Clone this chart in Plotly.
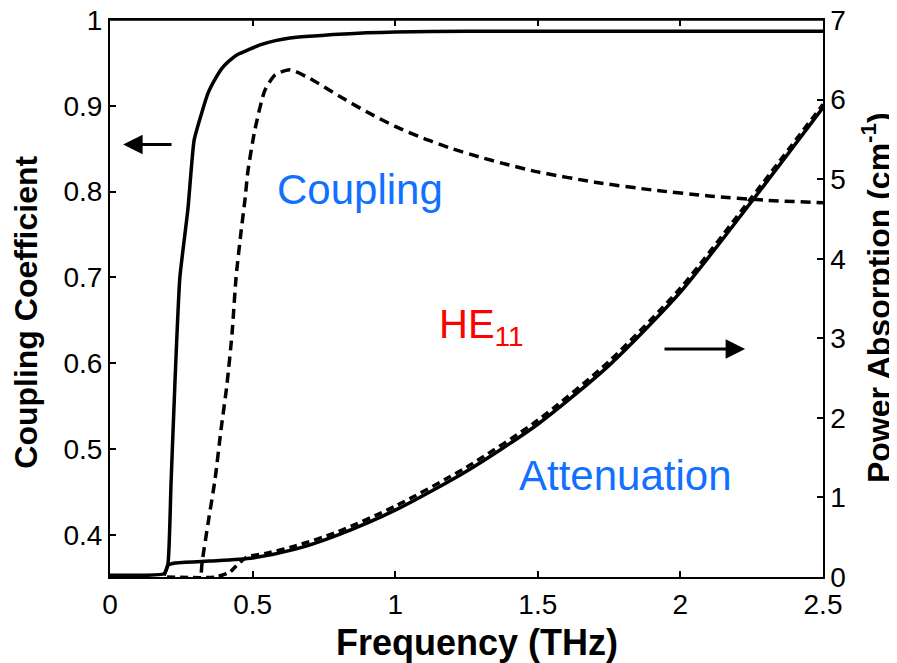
import plotly.graph_objects as go

# ---- data ----
freq_coup_solid = [0, 0.1, 0.19, 0.203, 0.214, 0.228, 0.245, 0.273, 0.295, 0.32, 0.344,
                   0.37, 0.393, 0.42, 0.449, 0.49, 0.526, 0.58, 0.631, 0.7, 0.782, 0.9,
                   1.0, 1.25, 1.5, 2.0, 2.5]
coup_solid = [0.353, 0.353, 0.355, 0.366, 0.46, 0.58, 0.70, 0.779, 0.860, 0.890, 0.915,
              0.932, 0.944, 0.953, 0.960, 0.966, 0.971, 0.976, 0.979, 0.981, 0.983, 0.985,
              0.986, 0.987, 0.987, 0.987, 0.987]

freq_coup_dash = [0.32, 0.323, 0.344, 0.368, 0.389, 0.410, 0.428, 0.442, 0.459, 0.473, 0.484,
                  0.508, 0.543, 0.579, 0.631, 0.70, 0.80, 0.90, 1.0, 1.1, 1.2, 1.3, 1.4,
                  1.5, 1.7, 1.9, 2.1, 2.3, 2.5]
coup_dash = [0.356, 0.368, 0.414, 0.464, 0.522, 0.575, 0.635, 0.700, 0.752, 0.790, 0.825,
             0.872, 0.918, 0.936, 0.942, 0.932, 0.912, 0.893, 0.876, 0.862, 0.850, 0.840,
             0.831, 0.823, 0.811, 0.802, 0.795, 0.790, 0.787]

freq_att_solid = [0.19, 0.205, 0.228, 0.35, 0.5, 0.65, 0.8, 1.0, 1.25, 1.5, 1.75, 2.0,
                  2.25, 2.5]
att_solid = [0.02, 0.15, 0.176, 0.20, 0.24, 0.35, 0.53, 0.84, 1.33, 1.92, 2.66, 3.58,
             4.72, 5.90]

freq_att_dash = [0.2, 0.37, 0.42, 0.44, 0.48, 0.55, 0.65, 0.8, 1.0, 1.25, 1.5, 1.75, 2.0,
                 2.25, 2.5]
att_dash = [0.0, 0.0, 0.06, 0.13, 0.25, 0.30, 0.39, 0.57, 0.89, 1.38, 1.97, 2.71, 3.63,
            4.77, 5.94]

x_ticks = [0, 0.5, 1, 1.5, 2, 2.5]
x_ticktext = ["0", "0.5", "1", "1.5", "2", "2.5"]
y_ticks = [0.4, 0.5, 0.6, 0.7, 0.8, 0.9, 1.0]
y_ticktext = ["0.4", "0.5", "0.6", "0.7", "0.8", "0.9", "1"]
y2_ticks = [0, 1, 2, 3, 4, 5, 6, 7]
y2_ticktext = ["0", "1", "2", "3", "4", "5", "6", "7"]

FONT = "Arial, Liberation Sans, Helvetica, sans-serif"
BLUE = "#1270ff"
RED = "#ff0000"

fig = go.Figure()
fig.add_trace(go.Scatter(x=freq_coup_solid, y=coup_solid, mode="lines",
                         line=dict(color="black", width=3.5, shape="spline", smoothing=0.5),
                         yaxis="y", showlegend=False))
fig.add_trace(go.Scatter(x=freq_coup_dash, y=coup_dash, mode="lines",
                         line=dict(color="black", width=3.5, dash="10px,6px",
                                   shape="spline", smoothing=0.6),
                         yaxis="y", showlegend=False))
fig.add_trace(go.Scatter(x=freq_att_solid, y=att_solid, mode="lines",
                         line=dict(color="black", width=3.5, shape="spline", smoothing=0.7),
                         yaxis="y2", showlegend=False))
fig.add_trace(go.Scatter(x=freq_att_dash, y=att_dash, mode="lines",
                         line=dict(color="black", width=3.5, dash="8px,5px",
                                   shape="spline", smoothing=0.7),
                         yaxis="y2", showlegend=False))

tickfont = dict(family=FONT, size=28, color="black")
common = dict(ticks="inside", ticklen=6, tickwidth=1.5, tickcolor="black", showgrid=False,
              zeroline=False, showline=True, linecolor="black", tickfont=tickfont,
              ticklabeloverflow="allow", automargin=False)
# page body has an 8px margin: figure is shrunk/shifted to compensate
fig.update_layout(
    width=889, height=655,
    margin=dict(l=102, r=74, t=12, b=86, autoexpand=False),
    paper_bgcolor="white", plot_bgcolor="white",
    xaxis=dict(range=[0, 2.5], tickvals=x_ticks, ticktext=x_ticktext, linewidth=2,
               mirror="ticks", ticklabelstandoff=1, **common),
    yaxis=dict(range=[0.351, 1.0], tickvals=y_ticks, ticktext=y_ticktext, linewidth=2,
               ticklabelstandoff=0, **common),
    yaxis2=dict(range=[0, 7], tickvals=y2_ticks, ticktext=y2_ticktext, linewidth=1.5,
                overlaying="y", side="right", ticklabelstandoff=0, **common),
)

# top frame line
fig.add_shape(type="line", xref="paper", yref="paper", x0=0, x1=1, y0=1, y1=1,
              line=dict(color="black", width=1.5))

title_font = dict(family=FONT, size=32, color="black", weight="bold")
fig.add_annotation(text="Coupling Coefficient", xref="paper", yref="paper",
                   x=-0.118, y=0.476, xanchor="center", yanchor="middle",
                   textangle=-90, showarrow=False, font=title_font)
fig.add_annotation(text="Power Absorption (cm<sup>-1</sup>)", xref="paper", yref="paper",
                   x=1.0745, y=0.501, xanchor="center", yanchor="middle",
                   textangle=-90, showarrow=False, font=title_font)
fig.add_annotation(text="Frequency (THz)", xref="paper", yref="paper",
                   x=0.515, y=-0.117, xanchor="center", yanchor="middle", showarrow=False,
                   font=dict(family=FONT, size=36, color="black", weight="bold"))

label_font_blue = dict(family=FONT, size=42, color=BLUE)
fig.add_annotation(text="Coupling", x=0.877, y=0.8025, xref="x", yref="y",
                   xanchor="center", yanchor="middle", showarrow=False, font=label_font_blue)
fig.add_annotation(text="Attenuation", x=1.806, y=1.27, xref="x", yref="y2",
                   xanchor="center", yanchor="middle", showarrow=False, font=label_font_blue)
fig.add_annotation(text="HE<sub>11</sub>", x=1.147, y=3.14, xref="x", yref="y2",
                   xanchor="left", yanchor="middle", showarrow=False,
                   font=dict(family=FONT, size=40, color=RED))

# arrows (head / tail positions in data units)
arrow_left = dict(head=(0.046, 0.855), tail=(0.221, 0.855))
arrow_right = dict(head=(2.227, 2.865), tail=(1.939, 2.865))
fig.add_annotation(x=arrow_left["head"][0], y=arrow_left["head"][1], xref="x", yref="y",
                   ax=arrow_left["tail"][0], ay=arrow_left["tail"][1], axref="x", ayref="y",
                   showarrow=True, arrowhead=2, arrowsize=1.3, arrowwidth=3,
                   arrowcolor="black", text="")
fig.add_annotation(x=arrow_right["head"][0], y=arrow_right["head"][1], xref="x", yref="y2",
                   ax=arrow_right["tail"][0], ay=arrow_right["tail"][1], axref="x", ayref="y2",
                   showarrow=True, arrowhead=2, arrowsize=1.3, arrowwidth=3,
                   arrowcolor="black", text="")

fig.write_html("out.html")
